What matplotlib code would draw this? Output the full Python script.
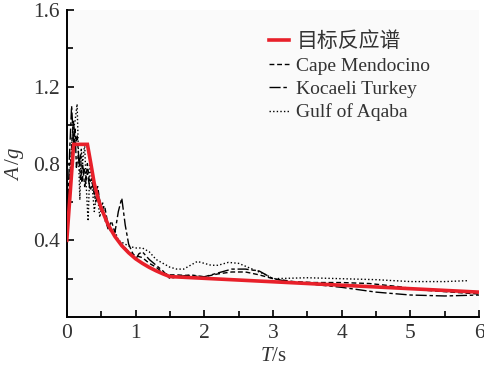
import matplotlib
matplotlib.use("Agg")
import matplotlib.pyplot as plt
from matplotlib.ticker import MultipleLocator, FixedLocator, FormatStrFormatter

plt.rcParams['font.family'] = ['Liberation Serif', 'Noto Sans CJK SC']
plt.rcParams['mathtext.fontset'] = 'custom'
plt.rcParams['mathtext.rm'] = 'Liberation Serif'
plt.rcParams['mathtext.it'] = 'Liberation Serif:italic'

# Target design spectrum
t_target = [0.0, 0.1, 0.3, 0.35, 0.4, 0.45, 0.5, 0.6, 0.7, 0.8, 0.9, 1.0, 1.1, 1.2, 1.3, 1.4, 1.5, 6.0]
a_target = [0.40, 0.90, 0.90, 0.80, 0.695, 0.625, 0.568, 0.482, 0.420, 0.372, 0.335, 0.304, 0.280, 0.259, 0.241, 0.225, 0.211, 0.130]

# Cape Mendocino record
t_cape = [0, 0.05, 0.08, 0.1, 0.12, 0.15, 0.18, 0.2, 0.22, 0.25, 0.28, 0.3, 0.33, 0.36, 0.4, 0.45,
          0.5, 0.55, 0.6, 0.65, 0.7, 0.75, 0.8, 0.85, 0.9, 0.95, 1.0, 1.1, 1.2, 1.3, 1.4, 1.5, 1.6,
          1.8, 2.0, 2.2, 2.4, 2.6, 2.8, 3.0, 3.3, 3.6, 4.0, 4.4, 4.8, 5.2, 5.6, 6.0]
a_cape = [0.40, 0.75, 0.95, 1.02, 0.88, 0.95, 0.80, 0.85, 0.70, 0.78, 0.72, 0.80, 0.70, 0.72, 0.64, 0.68,
          0.55, 0.58, 0.48, 0.46, 0.42, 0.40, 0.38, 0.36, 0.34, 0.33, 0.32, 0.31, 0.28, 0.26, 0.23, 0.22, 0.22,
          0.215, 0.21, 0.225, 0.235, 0.235, 0.22, 0.20, 0.185, 0.18, 0.18, 0.175, 0.16, 0.14, 0.13, 0.12]

# Kocaeli Turkey record
t_koc = [0, 0.04, 0.07, 0.1, 0.12, 0.14, 0.17, 0.2, 0.23, 0.26, 0.3, 0.34, 0.38, 0.42, 0.46, 0.5,
         0.55, 0.6, 0.65, 0.7, 0.75, 0.8, 0.85, 0.9, 0.95, 1.0, 1.05, 1.1, 1.2, 1.3, 1.4, 1.5, 1.6,
         1.8, 2.0, 2.2, 2.4, 2.6, 2.8, 3.0, 3.3, 3.6, 4.0, 4.5, 5.0, 5.5, 6.0]
a_koc = [0.40, 0.85, 1.10, 0.90, 0.98, 0.78, 0.85, 0.72, 0.80, 0.68, 0.75, 0.66, 0.70, 0.60, 0.64, 0.56,
         0.52, 0.46, 0.50, 0.44, 0.55, 0.62, 0.48, 0.38, 0.34, 0.30, 0.33, 0.34, 0.30, 0.27, 0.24, 0.20, 0.21,
         0.22, 0.21, 0.23, 0.25, 0.25, 0.24, 0.20, 0.18, 0.17, 0.155, 0.13, 0.115, 0.11, 0.115]

# Gulf of Aqaba record
t_gulf = [0, 0.04, 0.08, 0.12, 0.15, 0.17, 0.19, 0.21, 0.23, 0.26, 0.28, 0.31, 0.34, 0.37, 0.4, 0.44,
          0.48, 0.52, 0.56, 0.6, 0.65, 0.7, 0.75, 0.8, 0.9, 1.0, 1.1, 1.2, 1.3, 1.4, 1.5, 1.6, 1.7,
          1.8, 1.9, 2.0, 2.1, 2.2, 2.35, 2.5, 2.7, 2.9, 3.0, 3.5, 4.0, 4.5, 5.0, 5.5, 5.85]
a_gulf = [0.40, 0.70, 0.95, 1.02, 1.11, 0.85, 0.61, 0.88, 0.80, 0.90, 0.70, 0.50, 0.82, 0.68, 0.55, 0.66,
          0.52, 0.60, 0.50, 0.47, 0.44, 0.45, 0.40, 0.39, 0.37, 0.36, 0.36, 0.34, 0.30, 0.28, 0.26, 0.25, 0.25,
          0.27, 0.29, 0.28, 0.27, 0.27, 0.285, 0.28, 0.25, 0.22, 0.20, 0.205, 0.20, 0.195, 0.185, 0.185, 0.19]

labels = ['目标反应谱', 'Cape Mendocino', 'Kocaeli Turkey', 'Gulf of Aqaba']
y_major = [0.4, 0.8, 1.2, 1.6]
y_minor = [0.2, 0.6, 1.0, 1.4]

fig = plt.figure(figsize=(4.84, 3.70), dpi=100)
ax = fig.add_axes([0.138, 0.143, 0.852, 0.830])
ax.set_facecolor('#fafafa')

ax.plot(t_cape, a_cape, color='black', lw=1.0, linestyle=(0, (3.5, 2)), label=labels[1], zorder=3)
ax.plot(t_koc, a_koc, color='black', lw=1.0, linestyle=(0, (8, 2, 2.5, 2)), label=labels[2], zorder=3)
ax.plot(t_gulf, a_gulf, color='black', lw=1.0, linestyle=(0, (1, 1.6)), label=labels[3], zorder=3)
ax.plot(t_target, a_target, color='#e8202a', lw=2.6, label=labels[0], zorder=4, solid_joinstyle='miter')

ax.set_xlim(0, 6)
ax.set_ylim(0, 1.6)
ax.xaxis.set_major_locator(MultipleLocator(1))
ax.xaxis.set_minor_locator(MultipleLocator(0.5))
ax.xaxis.set_major_formatter(FormatStrFormatter('%d'))
ax.yaxis.set_major_locator(FixedLocator(y_major))
ax.yaxis.set_minor_locator(FixedLocator(y_minor))
ax.yaxis.set_major_formatter(FormatStrFormatter('%.1f'))
ax.tick_params(axis='both', which='major', direction='in', length=5, width=1.2,
               labelsize=15.5, labelcolor='#333333', pad=5)
ax.tick_params(axis='both', which='minor', direction='in', length=4, width=1.2)

for side in ['top', 'right']:
    ax.spines[side].set_visible(False)
for side in ['left', 'bottom']:
    ax.spines[side].set_linewidth(1.4)

ax.set_xlabel(r'$T$/s', fontsize=15, color='#333333', labelpad=3)
ax.set_ylabel(r'$A\,/g$', fontsize=15, color='#333333', labelpad=5)

handles, labs = ax.get_legend_handles_labels()
order = [3, 0, 1, 2]
leg = ax.legend([handles[i] for i in order], [labs[i] for i in order],
                loc='upper left', bbox_to_anchor=(0.448, 0.985), frameon=False,
                fontsize=14, handlelength=1.05, handletextpad=0.35, labelspacing=0.28,
                labelcolor='#333333')
leg.get_texts()[0].set_fontsize(15)

fig.savefig('out.png', dpi=100)
